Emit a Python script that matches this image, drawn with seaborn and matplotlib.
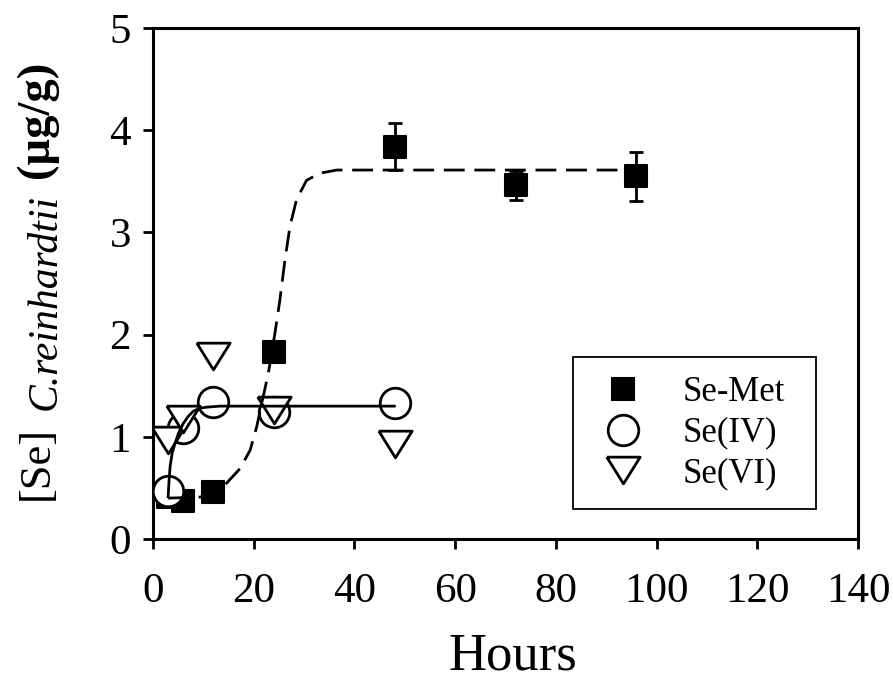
import numpy as np
import pandas as pd
import matplotlib
matplotlib.use("Agg")
import matplotlib.pyplot as plt
import seaborn as sns
from matplotlib.lines import Line2D

# ---- data ----
hours_met = [3, 6, 12, 24, 48, 72, 96]
se_met = [0.41, 0.37, 0.46, 1.83, 3.84, 3.46, 3.55]
se_met_err = [0, 0, 0, 0, 0.23, 0.14, 0.24]

hours_iv = [3, 6, 12, 24, 48]
se_iv = [0.47, 1.09, 1.34, 1.24, 1.33]

hours_vi = [3, 6, 12, 24, 48]
se_vi = [0.97, 1.17, 1.79, 1.26, 0.93]

# fitted curves
fit_met_x = [3, 9.3, 12, 14.3, 17.3, 19.3, 20.6, 21.6, 22.9, 24.2, 25.2, 26.2,
             27.2, 28.5, 30.5, 33.2, 36.5, 48, 72, 96]
fit_met_y = [0.40, 0.41, 0.45, 0.53, 0.69, 0.87, 1.10, 1.33, 1.62, 2.01, 2.34,
             2.73, 3.06, 3.32, 3.51, 3.58, 3.61, 3.61, 3.61, 3.61]
fit_iv_x = [3, 3.2, 3.4, 3.8, 4.4, 5.1, 6, 7, 8, 9.3, 10.7, 13.3, 48]
fit_iv_y = [0.41, 0.58, 0.71, 0.84, 0.94, 1.04, 1.13, 1.20, 1.25, 1.28, 1.29,
            1.30, 1.30]

labels = ["Se-Met", "Se(IV)", "Se(VI)"]
x_ticks = [0, 20, 40, 60, 80, 100, 120, 140]
y_ticks = [0, 1, 2, 3, 4, 5]

sns.set_style("ticks")
plt.rcParams["font.family"] = ["Liberation Serif", "DejaVu Serif"]
plt.rcParams["text.color"] = "black"
plt.rcParams["axes.labelcolor"] = "black"
plt.rcParams["xtick.color"] = "black"
plt.rcParams["ytick.color"] = "black"

W, H = 893, 681
fig = plt.figure(figsize=(W / 100, H / 100), dpi=100)
ax = fig.add_axes([153 / W, 1 - 539 / H, 705 / W, 511 / H])

tri = [(-1, 0.8), (1, 0.8), (0, -0.8), (-1, 0.8)]

# markers
ax.errorbar(hours_met, se_met, yerr=se_met_err, fmt="none", ecolor="black",
            elinewidth=2, capsize=5, capthick=2, zorder=2)
sns.scatterplot(x=hours_met, y=se_met, marker="s", s=270, color="black",
                edgecolor="black", linewidth=1.5, ax=ax, zorder=3)
sns.scatterplot(x=hours_iv, y=se_iv, marker="o", s=484, color="white",
                edgecolor="black", linewidth=2, ax=ax, zorder=4)
sns.scatterplot(x=hours_vi, y=se_vi, marker=tri, s=576, color="white",
                edgecolor="black", linewidth=2, ax=ax, zorder=5)

# fitted curves
sns.lineplot(x=fit_met_x, y=fit_met_y, sort=False, estimator=None, color="black",
             linewidth=2.0, ax=ax, zorder=6)
ax.lines[-1].set_dashes([7.5, 3.5])
sns.lineplot(x=fit_iv_x, y=fit_iv_y, sort=False, estimator=None, color="black",
             linewidth=2.0, ax=ax, zorder=6)

ax.set_xlim(0, 140)
ax.set_ylim(0, 5)
ax.set_xticks(x_ticks)
ax.set_yticks(y_ticks)
ax.set_xticklabels([str(t) for t in x_ticks])
ax.set_yticklabels([str(t) for t in y_ticks])
ax.tick_params(axis="both", direction="out", length=7, width=2, labelsize=31,
               color="black", labelcolor="black")
ax.tick_params(axis="x", pad=17)
ax.tick_params(axis="y", pad=9)
for sp in ax.spines.values():
    sp.set_visible(True)
    sp.set_linewidth(2.2)
    sp.set_color("black")
ax.set_xlabel("")
ax.set_ylabel("")

# axis titles
fig.text(513 / W, 1 - 669 / H, "Hours", fontsize=38, ha="center",
         va="baseline", color="black")
fig.text(37 / W, 1 - 500 / H, "[Se]", fontsize=32, rotation=90, ha="center",
         va="bottom", color="black")
fig.text(45 / W, 1 - 410 / H, "C.reinhardtii", fontsize=30, style="italic",
         rotation=90, ha="center", va="bottom", color="black")
fig.text(37 / W, 1 - 178 / H, "(µg/g)", fontsize=33.5, weight="bold",
         rotation=90, ha="center", va="bottom", color="black")

# legend
handles = [
    Line2D([], [], linestyle="none", marker="s", markersize=16,
           markerfacecolor="black", markeredgecolor="black", markeredgewidth=1.5),
    Line2D([], [], linestyle="none", marker="o", markersize=22,
           markerfacecolor="white", markeredgecolor="black", markeredgewidth=2),
    Line2D([], [], linestyle="none", marker=tri, markersize=24,
           markerfacecolor="white", markeredgecolor="black", markeredgewidth=2),
]
leg = ax.legend(handles, labels, loc="upper left",
                bbox_to_anchor=(573 / W, 1 - 508 / H, 243 / W, 151 / H),
                bbox_transform=fig.transFigure, mode="expand",
                borderaxespad=0, fontsize=25, frameon=True, fancybox=False,
                borderpad=0.55, handlelength=1.8, handletextpad=0.8,
                labelspacing=0.22)
leg.get_frame().set_edgecolor("black")
leg.get_frame().set_linewidth(1.3)
leg.get_frame().set_alpha(1)
for t in leg.get_texts():
    t.set_color("black")

fig.savefig("out.png", dpi=100)
